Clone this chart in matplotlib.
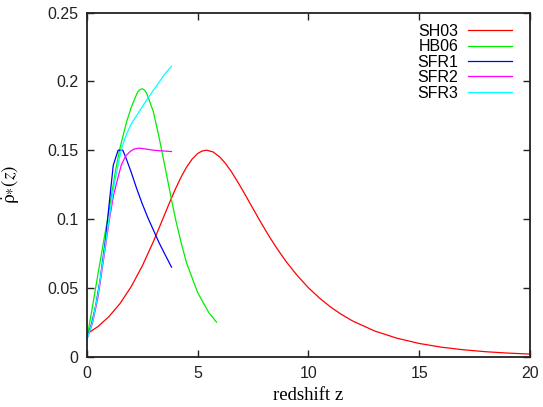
import matplotlib
matplotlib.use("Agg")
import matplotlib.pyplot as plt

# star formation rate histories
z_sh03 = [0, 0.5, 1, 1.5, 2, 2.5, 3, 3.25, 3.5, 3.75, 4, 4.25, 4.5, 4.75, 5, 5.2,
          5.4, 5.7, 6, 6.25, 6.5, 6.75, 7, 7.25, 7.5, 7.75, 8, 8.25, 8.5, 8.75,
          9, 9.5, 10, 10.5, 11, 11.5, 12, 13, 14, 15, 16, 17, 18, 19, 20]
sh03 = [0.0163, 0.0218, 0.0291, 0.0386, 0.0508, 0.0658, 0.0835, 0.0931, 0.1029,
        0.1126, 0.1219, 0.1304, 0.1377, 0.1435, 0.1476, 0.1494, 0.150, 0.1487,
        0.145, 0.1405, 0.1349, 0.1285, 0.1217, 0.1146, 0.1075, 0.1004, 0.0935,
        0.0868, 0.0805, 0.0746, 0.0689, 0.0588, 0.050, 0.0425, 0.036, 0.0305,
        0.0258, 0.0185, 0.0133, 0.0095, 0.0068, 0.0049, 0.0035, 0.0025, 0.0018]

z_hb06 = [0, 0.25, 0.5, 0.77, 1.0, 1.29, 1.5, 1.8, 2.0, 2.2, 2.3, 2.4, 2.5, 2.6,
          2.7, 2.8, 3.0, 3.25, 3.5, 3.82, 4.0, 4.25, 4.5, 5.0, 5.5, 5.85]
hb06 = [0.013, 0.036, 0.060, 0.085, 0.106, 0.135, 0.152, 0.171, 0.181, 0.189,
        0.1925, 0.194, 0.1947, 0.1937, 0.1912, 0.187, 0.178, 0.160, 0.140,
        0.114, 0.100, 0.083, 0.068, 0.0465, 0.032, 0.025]

z_sfr1 = [0, 0.2, 0.4, 0.6, 0.84, 1.0, 1.19, 1.41, 1.62, 1.75, 2.0, 2.25, 2.5,
          2.75, 3.0, 3.25, 3.5, 3.82]
sfr1 = [0.013, 0.023, 0.037, 0.056, 0.085, 0.110, 0.139, 0.150, 0.150, 0.145,
        0.134, 0.122, 0.111, 0.101, 0.092, 0.083, 0.075, 0.065]

z_sfr2 = [0, 0.25, 0.5, 0.84, 1.0, 1.2, 1.37, 1.55, 1.74, 1.95, 2.12, 2.35, 2.6,
          3.0, 3.4, 3.82]
sfr2 = [0.0125, 0.024, 0.043, 0.080, 0.098, 0.117, 0.128, 0.139, 0.1455, 0.149,
        0.1508, 0.1515, 0.151, 0.150, 0.1495, 0.149]

z_sfr3 = [0, 0.25, 0.5, 0.84, 1.0, 1.2, 1.45, 1.6, 1.8, 2.0, 2.4, 2.8, 3.2, 3.5,
          3.82]
sfr3 = [0.012, 0.025, 0.045, 0.082, 0.100, 0.122, 0.143, 0.153, 0.162, 0.169,
        0.179, 0.189, 0.198, 0.205, 0.211]

series = [("SH03", z_sh03, sh03, "#ff0000"),
          ("HB06", z_hb06, hb06, "#00ee00"),
          ("SFR1", z_sfr1, sfr1, "#0000ff"),
          ("SFR2", z_sfr2, sfr2, "#ff00ff"),
          ("SFR3", z_sfr3, sfr3, "#00ffff")]

plt.rcParams['font.family'] = ['Liberation Sans', 'DejaVu Sans']
plt.rcParams['mathtext.fontset'] = 'stix'

fig = plt.figure(figsize=(5.43, 4.07), dpi=100)
ax = fig.add_axes([0.160, 0.124, 0.816, 0.845])

for name, z, y, c in series:
    ax.plot(z, y, color=c, lw=0.9, label=name)

ax.set_xlim(0, 20)
ax.set_ylim(0, 0.25)
ax.set_xticks([0, 5, 10, 15, 20])
ax.set_yticks([0, 0.05, 0.1, 0.15, 0.2, 0.25])
ax.set_yticklabels(["0", "0.05", "0.1", "0.15", "0.2", "0.25"])
ax.tick_params(direction='in', length=5, width=1, labelsize=11.5,
               top=True, right=True, colors='#222222')
ax.tick_params(axis='x', pad=7)
ax.tick_params(axis='y', pad=6)
for s in ax.spines.values():
    s.set_linewidth(1.3)
    s.set_color('#222222')

ax.set_xlabel("redshift z", family='Liberation Serif', fontsize=13.5, labelpad=4)
ax.set_ylabel(r"$\dot{\mathrm{\rho}}_{*}(z)$", fontsize=14, labelpad=19)

leg = ax.legend(loc='upper right', bbox_to_anchor=(0.959, 0.968), frameon=False,
                markerfirst=False, fontsize=11.5, handlelength=2.75,
                handletextpad=0.6, labelspacing=0.03, borderpad=0,
                borderaxespad=0)

fig.savefig("out.png", dpi=100)
